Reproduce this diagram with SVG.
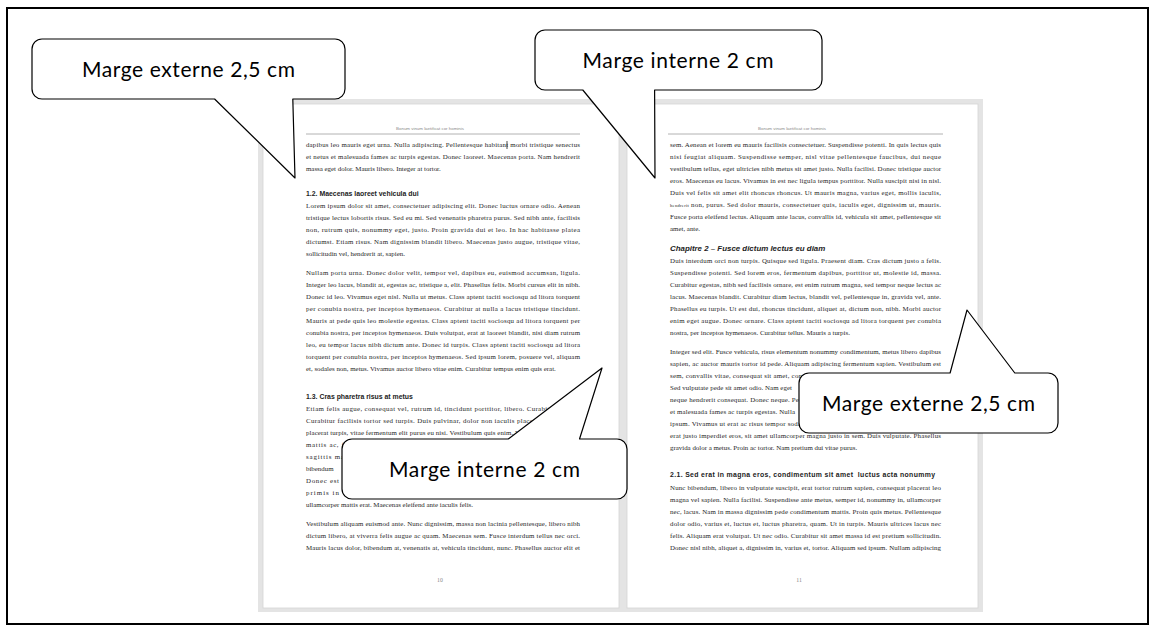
<svg xmlns="http://www.w3.org/2000/svg" width="1155" height="632" viewBox="0 0 1155 632">
  <style>
    .b { font-family: "Liberation Serif", serif; font-size: 6.9px; fill: #262626; }
    .sm { font-size: 4.6px; }
    .h { font-family: "Liberation Sans", Arial, sans-serif; font-weight: bold; font-size: 6.9px; fill: #222; }
    .ch { font-family: "Liberation Sans", Arial, sans-serif; font-weight: bold; font-style: italic; font-size: 7.9px; fill: #222; }
    .hd { font-family: "Liberation Sans", Arial, sans-serif; font-size: 4.4px; fill: #8a8a8a; }
    .pn { font-family: "Liberation Serif", serif; font-size: 5.8px; fill: #888; }
    .rule { stroke: #a0a0a0; stroke-width: 0.8; }
    .page { fill: #fff; stroke: #d4d4d4; stroke-width: 0.8; }
    .co { fill: #fff; stroke: #000; stroke-width: 1.2; stroke-linejoin: round; }
    .ct { font-family: Lato, "Open Sans", sans-serif; font-size: 21px; fill: #000; text-anchor: middle; }
  </style>

  <!-- outer frame -->
  <rect id="frame" x="7" y="8" width="1141" height="616" fill="#fff" stroke="#000" stroke-width="2"/>

  <!-- two-page spread on grey background -->
  <g id="spread">
    <rect x="258" y="99" width="725" height="513" fill="#e4e4e4"/>

    <g id="page-10">
      <rect class="page" x="263" y="104" width="356" height="504"/>
      <text class="hd" x="430" y="129.5" text-anchor="middle">Bonum vinum laetificat cor hominis</text>
      <line class="rule" x1="306" y1="134" x2="580" y2="134"/>
      <text class="b" x="306" y="147.4" textLength="274" lengthAdjust="spacing">dapibus leo mauris eget urna. Nulla adipiscing. Pellentesque habitant morbi tristique senectus</text>
      <line x1="507" y1="141" x2="507" y2="149" stroke="#000" stroke-width="0.7"/>
      <text class="b" x="306" y="159.4" textLength="274" lengthAdjust="spacing">et netus et malesuada fames ac turpis egestas. Donec laoreet. Maecenas porta. Nam hendrerit</text>
      <text class="b" x="306" y="171.4">massa eget dolor. Mauris libero. Integer at tortor.</text>
      <text class="h" x="306" y="195.5">1.2. Maecenas laoreet vehicula dui</text>
      <text class="b" x="306" y="208.4" textLength="274" lengthAdjust="spacing">Lorem ipsum dolor sit amet, consectetuer adipiscing elit. Donec luctus ornare odio. Aenean</text>
      <text class="b" x="306" y="220.4" textLength="274" lengthAdjust="spacing">tristique lectus lobortis risus. Sed eu mi. Sed venenatis pharetra purus. Sed nibh ante, facilisis</text>
      <text class="b" x="306" y="232.4" textLength="274" lengthAdjust="spacing">non, rutrum quis, nonummy eget, justo. Proin gravida dui et leo. In hac habitasse platea</text>
      <text class="b" x="306" y="244.4" textLength="274" lengthAdjust="spacing">dictumst. Etiam risus. Nam dignissim blandit libero. Maecenas justo augue, tristique vitae,</text>
      <text class="b" x="306" y="256.4">sollicitudin vel, hendrerit at, sapien.</text>
      <text class="b" x="306" y="275.4" textLength="274" lengthAdjust="spacing">Nullam porta urna. Donec dolor velit, tempor vel, dapibus eu, euismod accumsan, ligula.</text>
      <text class="b" x="306" y="287.4" textLength="274" lengthAdjust="spacing">Integer leo lacus, blandit at, egestas ac, tristique a, elit. Phasellus felis. Morbi cursus elit in nibh.</text>
      <text class="b" x="306" y="299.4" textLength="274" lengthAdjust="spacing">Donec id leo. Vivamus eget nisl. Nulla ut metus. Class aptent taciti sociosqu ad litora torquent</text>
      <text class="b" x="306" y="311.4" textLength="274" lengthAdjust="spacing">per conubia nostra, per inceptos hymenaeos. Curabitur at nulla a lacus tristique tincidunt.</text>
      <text class="b" x="306" y="323.4" textLength="274" lengthAdjust="spacing">Mauris at pede quis leo molestie egestas. Class aptent taciti sociosqu ad litora torquent per</text>
      <text class="b" x="306" y="335.4" textLength="274" lengthAdjust="spacing">conubia nostra, per inceptos hymenaeos. Duis volutpat, erat at laoreet blandit, nisi diam rutrum</text>
      <text class="b" x="306" y="347.4" textLength="274" lengthAdjust="spacing">leo, eu tempor lacus nibh dictum ante. Donec id turpis. Class aptent taciti sociosqu ad litora</text>
      <text class="b" x="306" y="359.4" textLength="274" lengthAdjust="spacing">torquent per conubia nostra, per inceptos hymenaeos. Sed ipsum lorem, posuere vel, aliquam</text>
      <text class="b" x="306" y="371.4">et, sodales non, metus. Vivamus auctor libero vitae enim. Curabitur tempus enim quis erat.</text>
      <text class="h" x="306" y="398.5">1.3. Cras pharetra risus at metus</text>
      <text class="b" x="306" y="411.4" textLength="250" lengthAdjust="spacing">Etiam felis augue, consequat vel, rutrum id, tincidunt porttitor, libero. Curabitur</text>
      <text class="b" x="306" y="423.4" textLength="235" lengthAdjust="spacing">Curabitur facilisis tortor sed turpis. Duis pulvinar, dolor non iaculis placerat</text>
      <text class="b" x="306" y="435.4" textLength="214" lengthAdjust="spacing">placerat turpis, vitae fermentum elit purus eu nisi. Vestibulum quis enim. V</text>
      <text class="b" x="306" y="447.4" textLength="38" lengthAdjust="spacing">mattis ac, f</text>
      <text class="b" x="306" y="459.4" textLength="38" lengthAdjust="spacing">sagittis ma</text>
      <text class="b" x="306" y="471.4">bibendum</text>
      <text class="b" x="306" y="483.4" textLength="33" lengthAdjust="spacing">Donec est</text>
      <text class="b" x="306" y="495.4" textLength="33" lengthAdjust="spacing">primis in</text>
      <text class="b" x="306" y="507.4">ullamcorper mattis erat. Maecenas eleifend ante iaculis felis.</text>
      <text class="b" x="306" y="526.4" textLength="274" lengthAdjust="spacing">Vestibulum aliquam euismod ante. Nunc dignissim, massa non lacinia pellentesque, libero nibh</text>
      <text class="b" x="306" y="538.4" textLength="274" lengthAdjust="spacing">dictum libero, at viverra felis augue ac quam. Maecenas sem. Fusce interdum tellus nec orci.</text>
      <text class="b" x="306" y="550.4" textLength="274" lengthAdjust="spacing">Mauris lacus dolor, bibendum at, venenatis at, vehicula tincidunt, nunc. Phasellus auctor elit et</text>
      <text class="pn" x="440" y="582" text-anchor="middle">10</text>
    </g>

    <g id="page-11">
      <rect class="page" x="627" y="104" width="351" height="504"/>
      <text class="hd" x="792" y="129.5" text-anchor="middle">Bonum vinum laetificat cor hominis</text>
      <line class="rule" x1="668" y1="134" x2="943" y2="134"/>
      <text class="b" x="670" y="147.4" textLength="271" lengthAdjust="spacing">sem. Aenean et lorem eu mauris facilisis consectetuer. Suspendisse potenti. In quis lectus quis</text>
      <text class="b" x="670" y="159.4" textLength="271" lengthAdjust="spacing">nisi feugiat aliquam. Suspendisse semper, nisl vitae pellentesque faucibus, dui neque</text>
      <text class="b" x="670" y="171.4" textLength="271" lengthAdjust="spacing">vestibulum tellus, eget ultricies nibh metus sit amet justo. Nulla facilisi. Donec tristique auctor</text>
      <text class="b" x="670" y="183.4" textLength="271" lengthAdjust="spacing">eros. Maecenas eu lacus. Vivamus in est nec ligula tempus porttitor. Nulla suscipit nisi in nisl.</text>
      <text class="b" x="670" y="195.4" textLength="271" lengthAdjust="spacing">Duis vel felis sit amet elit rhoncus rhoncus. Ut mauris magna, varius eget, mollis iaculis,</text>
      <text class="b" x="670" y="207.4" textLength="271" lengthAdjust="spacing"><tspan class="sm">hendrerit</tspan> non, purus. Sed dolor mauris, consectetuer quis, iaculis eget, dignissim ut, mauris.</text>
      <text class="b" x="670" y="219.4" textLength="271" lengthAdjust="spacing">Fusce porta eleifend lectus. Aliquam ante lacus, convallis id, vehicula sit amet, pellentesque sit</text>
      <text class="b" x="670" y="231.4">amet, ante.</text>
      <text class="ch" x="670" y="251">Chapitre 2 – Fusce dictum lectus eu diam</text>
      <text class="b" x="670" y="263.4" textLength="271" lengthAdjust="spacing">Duis interdum orci non turpis. Quisque sed ligula. Praesent diam. Cras dictum justo a felis.</text>
      <text class="b" x="670" y="275.4" textLength="271" lengthAdjust="spacing">Suspendisse potenti. Sed lorem eros, fermentum dapibus, porttitor ut, molestie id, massa.</text>
      <text class="b" x="670" y="287.4" textLength="271" lengthAdjust="spacing">Curabitur egestas, nibh sed facilisis ornare, est enim rutrum magna, sed tempor neque lectus ac</text>
      <text class="b" x="670" y="299.4" textLength="271" lengthAdjust="spacing">lacus. Maecenas blandit. Curabitur diam lectus, blandit vel, pellentesque in, gravida vel, ante.</text>
      <text class="b" x="670" y="311.4" textLength="271" lengthAdjust="spacing">Phasellus eu turpis. Ut est dui, rhoncus tincidunt, aliquet at, dictum non, nibh. Morbi auctor</text>
      <text class="b" x="670" y="323.4" textLength="271" lengthAdjust="spacing">enim eget augue. Donec ornare. Class aptent taciti sociosqu ad litora torquent per conubia</text>
      <text class="b" x="670" y="335.4">nostra, per inceptos hymenaeos. Curabitur tellus. Mauris a turpis.</text>
      <text class="b" x="670" y="354.4" textLength="271" lengthAdjust="spacing">Integer sed elit. Fusce vehicula, risus elementum nonummy condimentum, metus libero dapibus</text>
      <text class="b" x="670" y="366.4" textLength="271" lengthAdjust="spacing">sapien, ac auctor mauris tortor id pede. Aliquam adipiscing fermentum sapien. Vestibulum est</text>
      <text class="b" x="670" y="378.4" textLength="132" lengthAdjust="spacing">sem, convallis vitae, consequat sit amet, con</text>
      <text class="b" x="670" y="390.4" textLength="122" lengthAdjust="spacing">Sed vulputate pede sit amet odio. Nam eget</text>
      <text class="b" x="670" y="402.4" textLength="131" lengthAdjust="spacing">neque hendrerit consequat. Donec neque. Pel</text>
      <text class="b" x="670" y="414.4" textLength="125" lengthAdjust="spacing">et malesuada fames ac turpis egestas. Nulla</text>
      <text class="b" x="670" y="426.4" textLength="131" lengthAdjust="spacing">ipsum. Vivamus ut erat ac risus tempor soda</text>
      <text class="b" x="670" y="438.4" textLength="271" lengthAdjust="spacing">erat justo imperdiet eros, sit amet ullamcorper magna justo in sem. Duis vulputate. Phasellus</text>
      <text class="b" x="670" y="450.4">gravida dolor a metus. Proin ac tortor. Nam pretium dui vitae purus.</text>
      <text class="h" x="670" y="476.5" textLength="265" lengthAdjust="spacing" style="white-space:pre">2.1. Sed erat in magna eros, condimentum sit amet  luctus acta nonummy</text>
      <text class="b" x="670" y="490.4" textLength="271" lengthAdjust="spacing">Nunc bibendum, libero in vulputate suscipit, erat tortor rutrum sapien, consequat placerat leo</text>
      <text class="b" x="670" y="502.4" textLength="271" lengthAdjust="spacing">magna vel sapien. Nulla facilisi. Suspendisse ante metus, semper id, nonummy in, ullamcorper</text>
      <text class="b" x="670" y="514.4" textLength="271" lengthAdjust="spacing">nec, lacus. Nam in massa dignissim pede condimentum mattis. Proin quis metus. Pellentesque</text>
      <text class="b" x="670" y="526.4" textLength="271" lengthAdjust="spacing">dolor odio, varius et, luctus et, luctus pharetra, quam. Ut in turpis. Mauris ultrices lacus nec</text>
      <text class="b" x="670" y="538.4" textLength="271" lengthAdjust="spacing">felis. Aliquam erat volutpat. Ut nec odio. Curabitur sit amet massa id est pretium sollicitudin.</text>
      <text class="b" x="670" y="550.4" textLength="271" lengthAdjust="spacing">Donec nisl nibh, aliquet a, dignissim in, varius et, tortor. Aliquam sed ipsum. Nullam adipiscing</text>
      <text class="pn" x="799" y="582" text-anchor="middle">11</text>
    </g>
  </g>

  <!-- rounded-rectangle callouts with wedge tails -->
  <g id="callout-outer-left">
    <path class="co" d="M42,39 H335 A10,10 0 0 1 345,49 V89 A10,10 0 0 1 335,99 H292.8 L295,178 L214.6,99 H42 A10,10 0 0 1 32,89 V49 A10,10 0 0 1 42,39 Z"/>
    <text class="ct" x="188.5" y="76.5" textLength="213" lengthAdjust="spacing">Marge externe 2,5 cm</text>
  </g>

  <g id="callout-inner-top">
    <path class="co" d="M545,30 H812 A10,10 0 0 1 822,40 V80 A10,10 0 0 1 812,90 H654.6 L655,178 L582.8,90 H545 A10,10 0 0 1 535,80 V40 A10,10 0 0 1 545,30 Z"/>
    <text class="ct" x="678" y="67.5" textLength="191" lengthAdjust="spacing">Marge interne 2 cm</text>
  </g>

  <g id="callout-inner-bottom">
    <path class="co" d="M352,439 H508.3 L602,368 L579.5,439 H617 A10,10 0 0 1 627,449 V489 A10,10 0 0 1 617,499 H352 A10,10 0 0 1 342,489 V449 A10,10 0 0 1 352,439 Z"/>
    <text class="ct" x="484.5" y="476.5" textLength="191" lengthAdjust="spacing">Marge interne 2 cm</text>
  </g>

  <g id="callout-outer-right">
    <path class="co" d="M809,373 H950.1 L967,310 L1014.8,373 H1048 A10,10 0 0 1 1058,383 V423 A10,10 0 0 1 1048,433 H809 A10,10 0 0 1 799,423 V383 A10,10 0 0 1 809,373 Z"/>
    <text class="ct" x="928.5" y="410.5" textLength="213" lengthAdjust="spacing">Marge externe 2,5 cm</text>
  </g>
</svg>
